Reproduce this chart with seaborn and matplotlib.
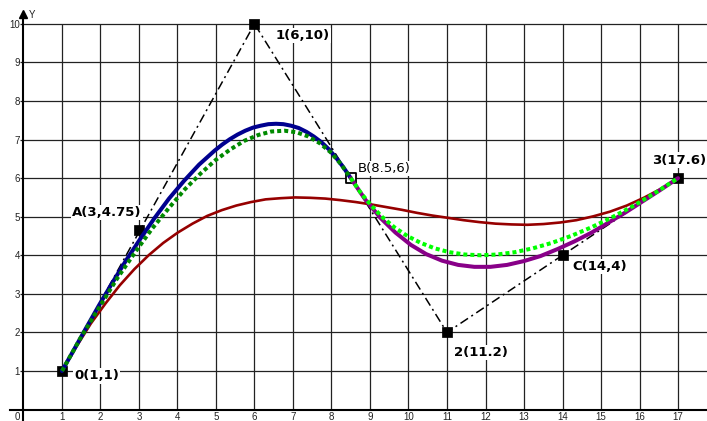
import matplotlib
matplotlib.use("Agg")
import matplotlib.pyplot as plt
import seaborn as sns

# === control polygon 0-1-2-3 ===
poly_x = [1, 6, 11, 17]
poly_y = [1, 10, 2, 6]

# === labelled points ===
pt_names = ["0(1,1)", "1(6,10)", "A(3,4.75)", "B(8.5,6)", "2(11.2)", "C(14,4)", "3(17.6)"]
pt_x = [1, 6, 3, 8.5, 11, 14, 17]
pt_y = [1, 10, 4.65, 6, 2, 4, 6]

# === curves ===
red_x = [1.00, 1.38, 1.75, 2.13, 2.50, 2.88, 3.25, 3.63, 4.01, 4.39, 4.77,
         5.15, 5.53, 5.91, 6.29, 6.68, 7.06, 7.45, 7.84, 8.23, 8.63,
         9.02, 9.42, 9.82, 10.22, 10.62, 11.03, 11.43, 11.84, 12.26, 12.67,
         13.09, 13.51, 13.94, 14.36, 14.80, 15.23, 15.67, 16.11, 16.55, 17.00]
red_y = [1.00, 1.64, 2.23, 2.75, 3.22, 3.64, 4.00, 4.32, 4.59, 4.82, 5.02,
         5.17, 5.29, 5.38, 5.45, 5.48, 5.50, 5.49, 5.47, 5.43, 5.38,
         5.32, 5.25, 5.18, 5.10, 5.03, 4.97, 4.91, 4.86, 4.82, 4.80,
         4.79, 4.81, 4.85, 4.91, 5.01, 5.13, 5.29, 5.49, 5.72, 6.00]

blue_x = [1.00, 1.31, 1.63, 1.96, 2.31, 2.66, 3.03, 3.40, 3.78, 4.17, 4.56,
          4.96, 5.16, 5.36, 5.56, 5.76, 5.96, 6.16, 6.36, 6.56, 6.75,
          6.95, 7.15, 7.35, 7.54, 7.74, 7.93, 8.12, 8.31, 8.50]
blue_y = [1.00, 1.55, 2.12, 2.70, 3.29, 3.86, 4.42, 4.96, 5.47, 5.93, 6.35,
          6.71, 6.87, 7.01, 7.13, 7.23, 7.31, 7.36, 7.40, 7.41, 7.40,
          7.36, 7.30, 7.20, 7.08, 6.93, 6.75, 6.53, 6.28, 6.00]

purple_x = [8.50, 8.88, 9.27, 9.66, 10.06, 10.46, 10.87, 11.29, 11.71, 12.13, 12.56,
            13.00, 13.43, 13.87, 14.31, 14.76, 15.20, 15.65, 16.10, 16.55, 17.00]
purple_y = [6.00, 5.44, 4.97, 4.59, 4.27, 4.03, 3.86, 3.75, 3.70, 3.70, 3.75,
            3.85, 3.98, 4.16, 4.36, 4.59, 4.85, 5.12, 5.41, 5.70, 6.00]

green_l_x = [1.00, 1.49, 1.98, 2.44, 2.90, 3.34, 3.78, 4.19, 4.60, 4.99, 5.38,
             5.74, 6.10, 6.44, 6.78, 7.09, 7.40, 7.69, 7.98, 8.24, 8.50]
green_l_y = [1.00, 1.87, 2.67, 3.41, 4.08, 4.69, 5.23, 5.71, 6.12, 6.47, 6.75,
             6.97, 7.12, 7.21, 7.23, 7.19, 7.08, 6.91, 6.67, 6.37, 6.00]

green_r_x = [8.50, 8.76, 9.04, 9.33, 9.64, 9.97, 10.32, 10.68, 11.06, 11.46, 11.88,
             12.31, 12.76, 13.23, 13.72, 14.22, 14.74, 15.28, 15.84, 16.41, 17.00]
green_r_y = [6.00, 5.62, 5.28, 4.98, 4.72, 4.50, 4.32, 4.18, 4.08, 4.02, 4.00,
             4.02, 4.08, 4.18, 4.32, 4.50, 4.72, 4.98, 5.28, 5.62, 6.00]

x_ticks = list(range(1, 18))
y_ticks = list(range(1, 11))

sns.set_style("white")
plt.rcParams["font.family"] = ["DejaVu Sans"]

fig = plt.figure(figsize=(7.07, 4.21), dpi=100)
ax = fig.add_axes([0, 0, 1, 1])
ax.set_xlim(-0.610, 17.753)
ax.set_ylim(-0.298, 10.62)

# grid
ax.vlines(x_ticks, 0, 10, color="#222222", linewidth=0.9, zorder=1)
ax.hlines(y_ticks, -0.1, 17.753, color="#222222", linewidth=0.9, zorder=1)

# control polygon
sns.lineplot(x=poly_x, y=poly_y, sort=False, estimator=None, color="black",
             linewidth=1.1, linestyle=(0, (5.9, 2.6, 1.3, 2.6)), ax=ax, zorder=2)

# point markers
solid = [n != "B(8.5,6)" for n in pt_names]
sns.scatterplot(x=[x for x, s in zip(pt_x, solid) if s], y=[y for y, s in zip(pt_y, solid) if s],
                marker="s", s=42, color="black", edgecolor="black", ax=ax, zorder=3)
sns.scatterplot(x=[x for x, s in zip(pt_x, solid) if not s], y=[y for y, s in zip(pt_y, solid) if not s],
                marker="s", s=48, color="white", edgecolor="black", linewidth=1.3, ax=ax, zorder=3)

# curves
sns.lineplot(x=red_x, y=red_y, sort=False, estimator=None, color="#960000",
             linewidth=1.9, ax=ax, zorder=4)
sns.lineplot(x=blue_x, y=blue_y, sort=False, estimator=None, color="#00008f",
             linewidth=2.9, ax=ax, zorder=5)
sns.lineplot(x=purple_x, y=purple_y, sort=False, estimator=None, color="#880088",
             linewidth=2.9, ax=ax, zorder=6)
sns.lineplot(x=green_l_x, y=green_l_y, sort=False, estimator=None, color="#008a00",
             linewidth=2.9, linestyle=(0, (1, 0.75)), ax=ax, zorder=7)
sns.lineplot(x=green_r_x, y=green_r_y, sort=False, estimator=None, color="#00ff00",
             linewidth=2.9, linestyle=(0, (1, 0.75)), ax=ax, zorder=7)

# point labels
label_pos = {
    "0(1,1)": (1.31, 0.87),
    "1(6,10)": (6.56, 9.69),
    "A(3,4.75)": (1.26, 5.10),
    "B(8.5,6)": (8.69, 6.24),
    "2(11.2)": (11.18, 1.47),
    "C(14,4)": (14.25, 3.72),
    "3(17.6)": (16.33, 6.47),
}
for name in pt_names:
    lx, ly = label_pos[name]
    ax.text(lx, ly, name, ha="left", va="center", fontsize=9.5, color="black",
            fontweight="normal" if name.startswith("B") else "bold",
            bbox=dict(facecolor="white", edgecolor="none", pad=0.8), zorder=1.5)

# axes
for side in ["top", "right"]:
    ax.spines[side].set_visible(False)
ax.spines["left"].set_position(("data", 0))
ax.spines["bottom"].set_position(("data", 0))
ax.spines["left"].set_bounds(-0.3, 10.2)
ax.spines["bottom"].set_bounds(-0.35, 17.753)
for side in ["left", "bottom"]:
    ax.spines[side].set_linewidth(1.5)
    ax.spines[side].set_color("black")
ax.set_xticks(x_ticks)
ax.set_yticks(y_ticks)
ax.tick_params(axis="x", length=0, pad=1.8, labelsize=7, labelcolor="#222222")
ax.tick_params(axis="y", length=0, pad=2.5, labelsize=7, labelcolor="#222222")
for lab in ax.get_xticklabels() + ax.get_yticklabels():
    lab.set_fontfamily("Liberation Sans")
ax.text(-0.08, -0.07, "0", ha="right", va="top", fontsize=7, color="#222222",
        family="Liberation Sans")
ax.plot([0], [10.25], marker="^", markersize=6, color="black", clip_on=False, zorder=3)
ax.text(0.14, 10.22, "Y", ha="left", va="center", fontsize=7, color="#222222",
        family="Liberation Sans")

fig.savefig("out.png", dpi=100)
